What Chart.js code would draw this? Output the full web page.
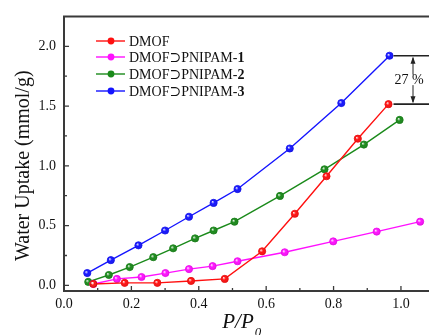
<!DOCTYPE html>
<html>
<head>
<meta charset="utf-8">
<script src="https://cdn.jsdelivr.net/npm/chart.js@4.4.1/dist/chart.umd.min.js"></script>
<style>
  html, body { margin: 0; padding: 0; background: #fff; }
  #wrap { width: 429px; height: 335px; position: relative; }
</style>
</head>
<body>
<div id="wrap"><canvas id="chart"></canvas></div>
<script>
const seriesNames = ['DMOF', 'DMOF\u2283PNIPAM-', 'DMOF\u2283PNIPAM-', 'DMOF\u2283PNIPAM-'];
const seriesSuffix = ['', '1', '2', '3'];
const seriesColors = ['#ff1010', '#ff10ff', '#1a8a1a', '#1414ff'];

const dmofX = [0.087, 0.180, 0.277, 0.377, 0.477, 0.588, 0.685, 0.779, 0.872, 0.963];
const dmofY = [0.012, 0.021, 0.021, 0.037, 0.054, 0.285, 0.599, 0.913, 1.227, 1.516];

const p1X = [0.087, 0.157, 0.230, 0.301, 0.371, 0.441, 0.515, 0.655, 0.799, 0.928, 1.057];
const p1Y = [0.012, 0.054, 0.070, 0.103, 0.136, 0.161, 0.202, 0.277, 0.368, 0.450, 0.533];

const p2X = [0.072, 0.133, 0.195, 0.265, 0.324, 0.389, 0.444, 0.506, 0.641, 0.773, 0.890, 0.996];
const p2Y = [0.029, 0.087, 0.153, 0.236, 0.310, 0.393, 0.459, 0.533, 0.748, 0.971, 1.178, 1.384];

const p3X = [0.069, 0.139, 0.221, 0.300, 0.371, 0.444, 0.515, 0.670, 0.823, 0.966];
const p3Y = [0.103, 0.211, 0.335, 0.459, 0.574, 0.690, 0.806, 1.145, 1.525, 1.921];

const xTicks = [0.0, 0.2, 0.4, 0.6, 0.8, 1.0];
const yTicks = [0.0, 0.5, 1.0, 1.5, 2.0];
const xMinor = [0.1, 0.3, 0.5, 0.7, 0.9];
const yMinor = [0.25, 0.75, 1.25, 1.75];
const gapLabel = '27 %';

const SERIF = '"Liberation Serif", "DejaVu Serif", serif';
const AXIS = '#3a3a3a';

const xs = [dmofX, p1X, p2X, p3X];
const ys = [dmofY, p1Y, p2Y, p3Y];

function ballGradient(ctx, color) {
  return color;
}

const datasets = xs.map((xArr, i) => ({
  label: seriesNames[i] + seriesSuffix[i],
  data: xArr.map((x, j) => ({ x, y: ys[i][j] })),
  borderColor: seriesColors[i],
  backgroundColor: seriesColors[i],
  pointBackgroundColor: seriesColors[i],
  pointBorderColor: seriesColors[i],
  pointRadius: 3.6,
  pointBorderWidth: 0.8,
  borderWidth: 1.4,
  tension: 0,
  clip: false,
}));

const framePlugin = {
  id: 'frame',
  afterDatasetsDraw(chart) {
    const { ctx, chartArea: a, scales } = chart;
    const sx = scales.x, sy = scales.y;
    ctx.save();

    // glossy highlight on markers
    chart.data.datasets.forEach((ds, i) => {
      const meta = chart.getDatasetMeta(i);
      meta.data.forEach((pt) => {
        const g = ctx.createRadialGradient(pt.x - 1.2, pt.y - 1.2, 0.2, pt.x, pt.y, 3.6);
        g.addColorStop(0, 'rgba(255,255,255,0.85)');
        g.addColorStop(0.45, 'rgba(255,255,255,0)');
        g.addColorStop(1, 'rgba(0,0,0,0.15)');
        ctx.fillStyle = g;
        ctx.beginPath();
        ctx.arc(pt.x, pt.y, 3.6, 0, Math.PI * 2);
        ctx.fill();
      });
    });

    // axes frame
    ctx.strokeStyle = AXIS;
    ctx.lineWidth = 2;
    ctx.beginPath();
    ctx.moveTo(a.right + 5, a.top);
    ctx.lineTo(a.left, a.top);
    ctx.lineTo(a.left, a.bottom);
    ctx.lineTo(a.right + 5, a.bottom);
    ctx.stroke();

    // inward ticks
    ctx.lineWidth = 1.3;
    ctx.beginPath();
    xTicks.forEach((v) => {
      const px = sx.getPixelForValue(v);
      ctx.moveTo(px, a.bottom); ctx.lineTo(px, a.bottom - 5);
    });
    xMinor.forEach((v) => {
      const px = sx.getPixelForValue(v);
      ctx.moveTo(px, a.bottom); ctx.lineTo(px, a.bottom - 3);
    });
    yTicks.forEach((v) => {
      const py = sy.getPixelForValue(v);
      ctx.moveTo(a.left, py); ctx.lineTo(a.left + 5, py);
    });
    yMinor.forEach((v) => {
      const py = sy.getPixelForValue(v);
      ctx.moveTo(a.left, py); ctx.lineTo(a.left + 3, py);
    });
    ctx.stroke();

    // axis titles
    ctx.fillStyle = '#111';
    ctx.save();
    ctx.translate(29, (a.top + a.bottom) / 2 + 12);
    ctx.rotate(-Math.PI / 2);
    ctx.font = '20px ' + SERIF;
    ctx.textAlign = 'center';
    ctx.textBaseline = 'alphabetic';
    ctx.fillText('Water Uptake (mmol/g)', 0, 0);
    ctx.restore();

    ctx.font = 'italic 21px ' + SERIF;
    ctx.textAlign = 'left';
    ctx.textBaseline = 'alphabetic';
    const t = 'P/P';
    const tw = ctx.measureText(t).width;
    const tx = 238 - tw / 2;
    ctx.fillText(t, tx, 328);
    ctx.font = 'italic 13px ' + SERIF;
    ctx.fillText('0', tx + tw + 1, 336);

    // legend
    const rowY = [41, 57, 74, 91];
    chart.data.datasets.forEach((ds, i) => {
      const y = rowY[i];
      ctx.strokeStyle = seriesColors[i];
      ctx.lineWidth = 1.4;
      ctx.beginPath();
      ctx.moveTo(96, y); ctx.lineTo(125, y);
      ctx.stroke();
      ctx.fillStyle = seriesColors[i];
      ctx.beginPath();
      ctx.arc(111, y, 3.4, 0, Math.PI * 2);
      ctx.fill();
      ctx.fillStyle = '#111';
      ctx.font = '14px ' + SERIF;
      ctx.textBaseline = 'middle';
      ctx.fillText(seriesNames[i], 129, y + 1);
      if (seriesSuffix[i]) {
        const w = ctx.measureText(seriesNames[i]).width;
        ctx.font = 'bold 14px ' + SERIF;
        ctx.fillText(seriesSuffix[i], 129 + w, y + 1);
      }
    });

    // 27 % gap annotation between DMOF and PNIPAM-3 end points
    const yTop = sy.getPixelForValue(p3Y[p3Y.length - 1]);
    const yBot = sy.getPixelForValue(dmofY[dmofY.length - 1]);
    const xStart = sx.getPixelForValue(p3X[p3X.length - 1]) + 4;
    ctx.strokeStyle = '#222';
    ctx.lineWidth = 1.6;
    ctx.beginPath();
    ctx.moveTo(xStart, yTop); ctx.lineTo(a.right + 5, yTop);
    ctx.moveTo(xStart, yBot); ctx.lineTo(a.right + 5, yBot);
    ctx.stroke();
    const ax = 413;
    ctx.lineWidth = 1;
    ctx.beginPath();
    ctx.moveTo(ax, yTop + 2); ctx.lineTo(ax, yTop + 19);
    ctx.moveTo(ax, yBot - 2); ctx.lineTo(ax, yBot - 19);
    ctx.stroke();
    ctx.fillStyle = '#222';
    ctx.beginPath();
    ctx.moveTo(ax, yTop + 1); ctx.lineTo(ax - 2.5, yTop + 8); ctx.lineTo(ax + 2.5, yTop + 8); ctx.closePath();
    ctx.moveTo(ax, yBot - 1); ctx.lineTo(ax - 2.5, yBot - 8); ctx.lineTo(ax + 2.5, yBot - 8); ctx.closePath();
    ctx.fill();
    ctx.fillStyle = '#111';
    ctx.font = '14px ' + SERIF;
    ctx.textAlign = 'center';
    ctx.textBaseline = 'middle';
    ctx.fillText(gapLabel, 409, (yTop + yBot) / 2);

    ctx.restore();
  },
};

new Chart(document.getElementById('chart'), {
  type: 'line',
  data: { datasets },
  options: {
    responsive: true,
    maintainAspectRatio: false,
    animation: false,
    layout: { padding: { top: 13, right: 0, left: 0, bottom: 0 } },
    plugins: { legend: { display: false }, tooltip: { enabled: false } },
    scales: {
      x: {
        type: 'linear',
        min: 0,
        max: 1.069,
        afterBuildTicks: (scale) => { scale.ticks = xTicks.map((v) => ({ value: v })); },
        afterFit: (scale) => { scale.height = 44; },
        grid: { display: false, drawTicks: false },
        border: { display: false },
        ticks: {
          padding: 5,
          color: '#111',
          font: { family: SERIF, size: 14 },
          maxRotation: 0,
          callback: (v) => Number(v).toFixed(1),
        },
      },
      y: {
        type: 'linear',
        min: -0.047,
        max: 2.25,
        afterBuildTicks: (scale) => { scale.ticks = yTicks.map((v) => ({ value: v })); },
        afterFit: (scale) => { scale.width = 64; },
        grid: { display: false, drawTicks: false },
        border: { display: false },
        ticks: {
          padding: 8,
          color: '#111',
          font: { family: SERIF, size: 14 },
          callback: (v) => Number(v).toFixed(1),
        },
      },
    },
  },
  plugins: [framePlugin],
});
</script>
</body>
</html>
